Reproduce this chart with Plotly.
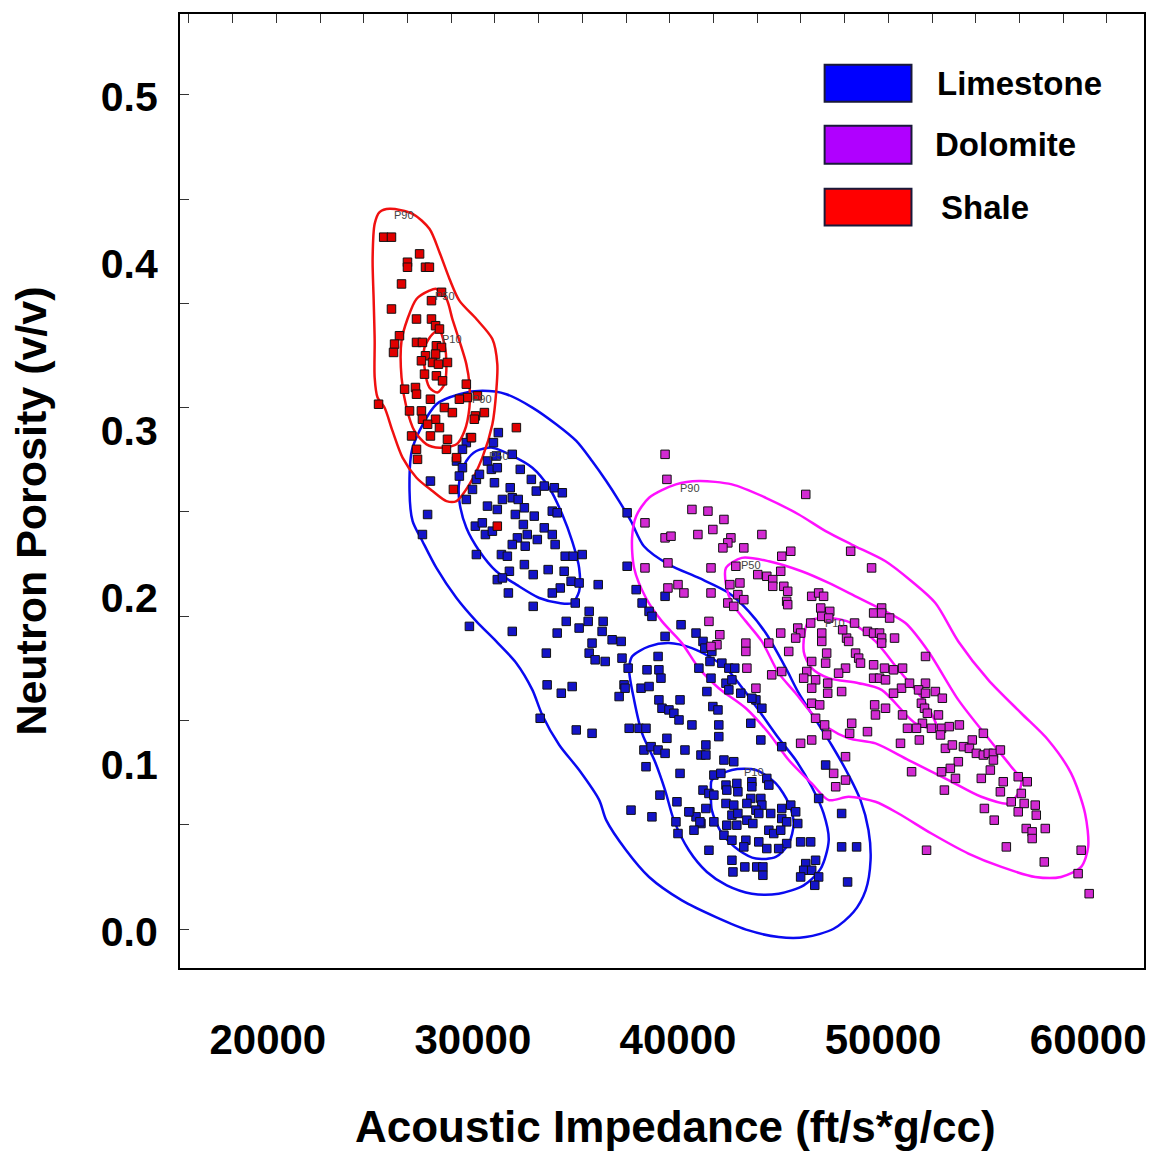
import plotly.graph_objects as go

# ---------------- data ----------------
# Limestone points: acoustic impedance (ft/s*g/cc), neutron porosity (v/v)
lime_x = [31240, 31000, 29880, 29680, 29490, 29200, 29490, 29340, 30710, 31140, 31920, 30900, 31190, 32310, 32850,
          30170, 30320, 27930, 31050, 33090, 33480, 33970, 34360, 29980, 31820, 31920, 32210, 32510, 31440, 30710,
          31190, 29680, 27790, 32070, 32990, 33870, 34110, 32460, 32650, 33480, 33870, 30120, 30460, 30610, 30950,
          32170, 33140, 34010, 31920, 32550, 27540, 30170, 31390, 31680, 34500, 34890, 35330, 32510, 33670, 32940,
          31780, 34450, 31190, 31440, 34790, 35180, 36110, 34260, 33870, 31730, 32940, 34990, 35670, 34550, 35620,
          36350, 29830, 31920, 34110, 35180, 36300, 36790, 37230, 35810, 33580, 35670, 35960, 36450, 37270, 37570,
          33620, 34310, 34840, 37130, 37370, 37520, 37520, 37960, 33280,
          38250, 39370, 38590, 38730, 40150, 39370, 40880, 41220, 41310, 41650, 41560, 42140, 42480, 42770, 39030,
          38490, 39070, 39170, 41020, 41610, 42340, 42630, 42480, 43060, 37420, 38200, 38590, 41410, 39070, 39220,
          39560, 39800, 40100, 40050, 41700, 41950, 43800, 44090, 37620, 38100, 38440, 40680, 41990, 35040, 35810,
          39460, 41360, 41990, 38340, 38690, 39030, 39370, 40340, 41120, 41360, 38440, 40100, 42240, 42720, 41750,
          42090, 39120, 39950, 37710, 38730, 39900, 40000, 40580, 40880, 41120, 41510,
          42340, 42870, 43600, 44330, 42380, 42920, 43600, 44430, 41220, 41510, 41750, 42340, 42720, 43550, 44040,
          44090, 43800, 43360, 41360, 40530, 42630, 42920, 43940, 44520, 45060, 45500, 45740, 41070, 41750, 42380,
          42870, 43360, 43650, 45060, 45300, 45840, 40780, 42240, 43310, 44430, 44670, 45010, 43940, 42630, 45300,
          44330, 44910, 45980, 46470, 43210, 47980, 47980, 48710, 46860, 47200, 42630, 42680, 43260, 43840, 44140,
          44140, 46230, 46710, 46130, 46520, 45980, 46860, 46670, 48270, 43600, 43550, 44040, 45060]
lime_y = [0.299, 0.293, 0.296, 0.293, 0.289, 0.282, 0.278, 0.273, 0.282, 0.285, 0.286, 0.277, 0.278, 0.277, 0.271,
          0.271, 0.274, 0.270, 0.269, 0.264, 0.267, 0.266, 0.263, 0.265, 0.266, 0.260, 0.259, 0.254, 0.259, 0.255,
          0.253, 0.259, 0.250, 0.250, 0.249, 0.252, 0.251, 0.244, 0.238, 0.242, 0.238, 0.243, 0.245, 0.238, 0.240,
          0.236, 0.235, 0.232, 0.232, 0.231, 0.238, 0.226, 0.226, 0.225, 0.225, 0.225, 0.226, 0.220, 0.217, 0.214,
          0.216, 0.216, 0.211, 0.212, 0.210, 0.209, 0.208, 0.206, 0.203, 0.203, 0.195, 0.197, 0.192, 0.186, 0.186,
          0.186, 0.183, 0.180, 0.179, 0.182, 0.180, 0.175, 0.174, 0.173, 0.167, 0.167, 0.163, 0.162, 0.164, 0.158,
          0.148, 0.143, 0.147, 0.141, 0.148, 0.251, 0.219, 0.205, 0.128,
          0.197, 0.201, 0.192, 0.189, 0.184, 0.177, 0.179, 0.174, 0.170, 0.168, 0.162, 0.161, 0.158, 0.158, 0.165,
          0.157, 0.157, 0.152, 0.158, 0.152, 0.149, 0.151, 0.145, 0.143, 0.146, 0.146, 0.147, 0.144, 0.139, 0.134,
          0.133, 0.131, 0.139, 0.127, 0.135, 0.133, 0.139, 0.134, 0.122, 0.122, 0.122, 0.124, 0.124, 0.121, 0.119,
          0.116, 0.112, 0.117, 0.109, 0.111, 0.109, 0.107, 0.109, 0.106, 0.106, 0.099, 0.095, 0.103, 0.102, 0.094,
          0.095, 0.082, 0.078, 0.073, 0.069, 0.066, 0.059, 0.072, 0.069, 0.065, 0.049,
          0.088, 0.089, 0.090, 0.092, 0.085, 0.084, 0.087, 0.088, 0.085, 0.083, 0.082, 0.077, 0.076, 0.080, 0.080,
          0.076, 0.073, 0.077, 0.074, 0.072, 0.070, 0.071, 0.071, 0.071, 0.074, 0.076, 0.072, 0.066, 0.066, 0.064,
          0.064, 0.067, 0.065, 0.068, 0.066, 0.065, 0.061, 0.058, 0.055, 0.061, 0.059, 0.061, 0.054, 0.055, 0.053,
          0.050, 0.050, 0.054, 0.054, 0.051, 0.071, 0.051, 0.051, 0.080, 0.100, 0.043, 0.036, 0.039, 0.039, 0.039,
          0.034, 0.041, 0.043, 0.037, 0.037, 0.033, 0.033, 0.028, 0.030, 0.140, 0.125, 0.115, 0.111]

# Dolomite points
dolo_x = [39370, 39460, 46230, 40680, 41460, 42240, 38390, 41700, 39370, 39660, 40970, 44090, 42580, 42430, 42190,
          43210, 48420, 45500, 45060, 38390, 39510, 41610, 42820, 43890, 44330, 44620, 45010, 44620, 49440, 39510,
          40000, 40290, 41610, 42530, 43020, 42920, 43210, 42430, 42720, 45160, 45350, 45300, 45350, 46520, 46860,
          47100, 41510, 42040, 45010, 45400, 43310, 43310, 45840, 45980, 46960, 47400, 47010, 47350, 48610, 49540,
          49930, 49930, 46470, 47010, 47010, 47250, 47200, 48220, 48660, 48810, 49240, 49540, 49830, 49930, 50560,
          49930, 48170, 41900, 41610, 44430, 45740, 43360, 43800, 44570, 45060, 48030, 48320, 48900, 46520, 46280,
          46130, 46710, 46520, 47300, 47300, 47830, 47980, 46520, 46910, 46710, 47150, 47250, 47590, 48170, 47690,
          48170, 45980, 46520, 49540, 50070, 50510, 50950, 49540, 49830, 50900, 51290, 52070, 51730, 52070, 50510,
          49590, 50120, 49630, 50950, 51870, 52020, 52160, 51920, 52360, 51630, 51190, 48470, 48370, 49240, 50850,
          51770, 51390, 50320, 52070, 50120, 52550, 52890, 52700, 52850, 53230, 53720, 52800, 53040, 53380, 53920,
          54350, 54890, 54210, 54550, 54890, 55130, 55380, 55720, 55380, 55230, 53670, 53280, 52850, 53530, 54790,
          52990, 55860, 55720, 56590, 57030, 56740, 56250, 56590, 56880, 57420, 57470, 54940, 55420, 56980, 57270,
          57910, 57270, 56010, 52120, 57860, 59660, 59510, 60050]
dolo_y = [0.286, 0.271, 0.262, 0.253, 0.252, 0.247, 0.245, 0.241, 0.236, 0.237, 0.238, 0.238, 0.236, 0.233, 0.230,
          0.230, 0.228, 0.228, 0.225, 0.218, 0.221, 0.218, 0.219, 0.214, 0.213, 0.211, 0.216, 0.207, 0.218, 0.206,
          0.208, 0.203, 0.203, 0.208, 0.209, 0.202, 0.199, 0.197, 0.195, 0.207, 0.204, 0.198, 0.196, 0.201, 0.203,
          0.201, 0.186, 0.178, 0.179, 0.168, 0.173, 0.168, 0.182, 0.179, 0.194, 0.192, 0.189, 0.188, 0.185, 0.191,
          0.194, 0.191, 0.185, 0.179, 0.174, 0.167, 0.161, 0.176, 0.167, 0.164, 0.180, 0.179, 0.179, 0.176, 0.176,
          0.173, 0.158, 0.172, 0.171, 0.173, 0.176, 0.158, 0.146, 0.154, 0.156, 0.181, 0.174, 0.161, 0.162, 0.156,
          0.152, 0.151, 0.146, 0.149, 0.143, 0.155, 0.144, 0.137, 0.136, 0.128, 0.124, 0.118, 0.095, 0.091, 0.087,
          0.105, 0.113, 0.115, 0.160, 0.158, 0.157, 0.158, 0.152, 0.152, 0.146, 0.149, 0.149, 0.145, 0.143, 0.143,
          0.136, 0.134, 0.130, 0.130, 0.137, 0.134, 0.131, 0.125, 0.122, 0.122, 0.122, 0.125, 0.119, 0.120, 0.113,
          0.115, 0.096, 0.188, 0.165, 0.151, 0.144, 0.140, 0.130, 0.122, 0.123, 0.124, 0.118, 0.110, 0.112, 0.111,
          0.115, 0.119, 0.110, 0.107, 0.106, 0.107, 0.107, 0.109, 0.103, 0.097, 0.102, 0.098, 0.096, 0.092, 0.092,
          0.085, 0.090, 0.084, 0.093, 0.090, 0.083, 0.078, 0.072, 0.077, 0.076, 0.070, 0.074, 0.067, 0.062, 0.060,
          0.062, 0.056, 0.051, 0.049, 0.042, 0.049, 0.035, 0.023]

# Shale points
shale_x = [25650, 26030, 27400, 26810, 26810, 27690, 27880, 26520, 27980, 28470, 26030, 27250, 27980, 28180, 28370,
           26420, 26180, 26130, 27250, 27540, 28220, 28470, 28180, 27690, 27490, 28030, 28320, 28760, 27640, 28220,
           28520, 26670, 27200, 27250, 27930, 29680, 29730, 29340, 30220, 25400, 26910, 27490, 28610, 29000, 30120,
           30560, 27540, 28180, 27790, 28370, 30070, 27010, 27930, 28760, 29930, 27250, 28710, 27300, 29200, 29050,
           32120, 31190]
shale_y = [0.416, 0.416, 0.406, 0.401, 0.398, 0.398, 0.398, 0.388, 0.378, 0.383, 0.373, 0.367, 0.367, 0.363, 0.361,
           0.357, 0.352, 0.347, 0.353, 0.353, 0.351, 0.350, 0.346, 0.345, 0.342, 0.341, 0.340, 0.341, 0.334, 0.333,
           0.330, 0.325, 0.326, 0.322, 0.319, 0.328, 0.320, 0.319, 0.321, 0.316, 0.312, 0.312, 0.314, 0.311, 0.309,
           0.311, 0.307, 0.307, 0.304, 0.302, 0.307, 0.297, 0.297, 0.295, 0.296, 0.289, 0.289, 0.283, 0.284, 0.265,
           0.302, 0.243]

# Probability contours (P90 / P50 / P10)
lime_p90_x = [28220, 29340, 30460, 31630, 32900, 34060, 35040, 35810, 36500, 37130, 37710, 38340, 39560, 41020,
              42480, 43450, 44280, 45260, 45890, 46710, 47490, 48320, 48900, 49290, 49390, 49150, 48560, 47590,
              46230, 44910, 43450, 41850, 40190, 38590, 37470, 36500, 36160, 35180, 34210, 33380, 32900, 32120,
              31140, 30170, 29200, 28220, 27540, 27060, 26910, 27060]
lime_p90_y = [0.316, 0.322, 0.324, 0.322, 0.314, 0.304, 0.294, 0.282, 0.270, 0.258, 0.246, 0.231, 0.220, 0.212,
              0.203, 0.192, 0.179, 0.158, 0.143, 0.127, 0.112, 0.094, 0.079, 0.061, 0.043, 0.025, 0.012, 0.002,
              -0.003, -0.003, 0.001, 0.009, 0.019, 0.033, 0.049, 0.067, 0.079, 0.097, 0.112, 0.130, 0.145, 0.161,
              0.174, 0.186, 0.200, 0.218, 0.234, 0.246, 0.264, 0.290]
lime_p50a_x = [30170, 30950, 31780, 32900, 33720, 34360, 34840, 35180, 35180, 34840, 34210, 33240, 32120, 31140,
               30320, 29680, 29340, 29340, 29680]
lime_p50a_y = [0.288, 0.290, 0.286, 0.278, 0.266, 0.250, 0.234, 0.218, 0.204, 0.197, 0.197, 0.200, 0.208, 0.216,
               0.228, 0.242, 0.258, 0.270, 0.282]
lime_p50b_x = [42340, 43210, 44040, 44910, 45740, 46520, 47100, 47350, 46960, 46130, 44910, 43600, 42380, 41410,
               40530, 39800, 39370, 38880, 38250, 37860, 37620, 37760, 38590, 39560, 40680, 41510]
lime_p50b_y = [0.158, 0.145, 0.131, 0.116, 0.103, 0.087, 0.071, 0.055, 0.038, 0.028, 0.023, 0.023, 0.028, 0.036,
               0.049, 0.067, 0.085, 0.102, 0.119, 0.139, 0.157, 0.165, 0.171, 0.173, 0.170, 0.165]
lime_p10_x = [41650, 42630, 43800, 44770, 45400, 45640, 45400, 44770, 43800, 42970, 42140, 41650, 41610]
lime_p10_y = [0.091, 0.097, 0.097, 0.089, 0.077, 0.065, 0.053, 0.045, 0.044, 0.049, 0.059, 0.073, 0.085]

dolo_p90_x = [39900, 41020, 42630, 44280, 45890, 47200, 48470, 50120, 51390, 52550, 53670, 55130, 56740, 58050,
              59170, 59850, 60000, 59660, 58680, 57420, 55770, 54160, 52360, 50750, 49630, 48320, 47350, 46520,
              45400, 44430, 43310, 41990, 41020, 40190, 39220, 38440, 37860, 37760, 37960, 38590]
dolo_p90_y = [0.268, 0.270, 0.268, 0.260, 0.250, 0.240, 0.232, 0.222, 0.210, 0.197, 0.174, 0.151, 0.131, 0.115,
              0.095, 0.071, 0.051, 0.039, 0.033, 0.033, 0.039, 0.047, 0.059, 0.071, 0.078, 0.081, 0.079, 0.089,
              0.103, 0.119, 0.134, 0.146, 0.158, 0.173, 0.186, 0.200, 0.218, 0.236, 0.249, 0.260]
dolo_p50_x = [42340, 43110, 44430, 46030, 47350, 48810, 50120, 51090, 52210, 53670, 55130, 56250, 56740, 56590,
              56110, 54790, 53190, 51240, 49630, 48320, 47350, 46520, 45740, 44910, 44090, 43310, 42630, 42340]
dolo_p50_y = [0.218, 0.224, 0.222, 0.216, 0.209, 0.200, 0.192, 0.185, 0.168, 0.139, 0.116, 0.099, 0.091, 0.083,
              0.077, 0.081, 0.091, 0.103, 0.113, 0.116, 0.122, 0.131, 0.143, 0.155, 0.174, 0.186, 0.197, 0.208]
dolo_p10_x = [46370, 47350, 48470, 49630, 50750, 52070, 52600, 51580, 49930, 48810, 47350, 46520, 46130]
dolo_p10_y = [0.186, 0.188, 0.185, 0.174, 0.157, 0.137, 0.122, 0.125, 0.145, 0.149, 0.152, 0.158, 0.168]

shale_p90_x = [25450, 25940, 27060, 27880, 28370, 28860, 29340, 30170, 30950, 31190, 31140, 30950, 30460, 29830,
               29200, 28710, 28030, 27250, 26570, 26080, 25690, 25350, 25210, 25210, 25160, 25110, 25210]
shale_p90_y = [0.431, 0.433, 0.430, 0.421, 0.407, 0.391, 0.378, 0.367, 0.355, 0.340, 0.324, 0.304, 0.284, 0.268,
               0.258, 0.258, 0.264, 0.272, 0.284, 0.300, 0.314, 0.320, 0.332, 0.354, 0.379, 0.403, 0.424]
shale_p50_x = [27880, 28220, 28710, 29000, 29340, 29680, 29830, 29830, 29590, 29200, 28370, 27740, 27150, 26760,
               26520, 26520, 26810, 27250]
shale_p50_y = [0.384, 0.385, 0.379, 0.367, 0.354, 0.340, 0.328, 0.314, 0.300, 0.292, 0.290, 0.292, 0.300, 0.314,
               0.332, 0.354, 0.367, 0.379]
shale_p10_x = [28030, 28370, 28610, 28710, 28610, 28270, 27880, 27640, 27640]
shale_p10_y = [0.358, 0.360, 0.352, 0.340, 0.328, 0.323, 0.326, 0.338, 0.350]

# contour label text and anchor positions
contour_labels = ["P90", "P50", "P10", "P90", "P50", "P10", "P90", "P50", "P10"]
contour_label_x = [26620, 28660, 29000, 30460, 31290, 43700, 40580, 43550, 47640]
contour_label_y = [0.429, 0.381, 0.355, 0.319, 0.285, 0.096, 0.266, 0.220, 0.185]

legend_names = ["Limestone", "Dolomite", "Shale"]
legend_colors = ["#0000ff", "#b000ff", "#ff0000"]

x_tick_vals = [20000, 30000, 40000, 50000, 60000]
x_tick_text = ["20000", "30000", "40000", "50000", "60000"]
y_tick_vals = [0.0, 0.1, 0.2, 0.3, 0.4, 0.5]
y_tick_text = ["0.0", "0.1", "0.2", "0.3", "0.4", "0.5"]

# ---------------- figure ----------------
LINE_BLUE = "#0a0af0"
LINE_MAG = "#ff10ff"
LINE_RED = "#f01010"
FONT = "Arial, Liberation Sans, sans-serif"

fig = go.Figure()


def closed(v):
    return list(v) + [v[0]]


def add_contour(xs, ys, color):
    fig.add_trace(go.Scatter(x=closed(xs), y=closed(ys), mode="lines",
                             line=dict(color=color, width=2.5, shape="spline", smoothing=0.8),
                             hoverinfo="skip", showlegend=False))


add_contour(lime_p90_x, lime_p90_y, LINE_BLUE)
add_contour(lime_p50a_x, lime_p50a_y, LINE_BLUE)
add_contour(lime_p50b_x, lime_p50b_y, LINE_BLUE)
add_contour(lime_p10_x, lime_p10_y, LINE_BLUE)
add_contour(dolo_p90_x, dolo_p90_y, LINE_MAG)
add_contour(dolo_p50_x, dolo_p50_y, LINE_MAG)
add_contour(dolo_p10_x, dolo_p10_y, LINE_MAG)
add_contour(shale_p90_x, shale_p90_y, LINE_RED)
add_contour(shale_p50_x, shale_p50_y, LINE_RED)
add_contour(shale_p10_x, shale_p10_y, LINE_RED)


def add_points(xs, ys, fill, name):
    fig.add_trace(go.Scatter(x=xs, y=ys, mode="markers", name=name, showlegend=False,
                             marker=dict(symbol="square", size=8.5, color=fill,
                                         line=dict(color="#111111", width=1))))


add_points(lime_x, lime_y, "#1414c8", "Limestone")
add_points(dolo_x, dolo_y, "#d22ad2", "Dolomite")
add_points(shale_x, shale_y, "#e00000", "Shale")

# dummy trace so the decorative frame-tick axes are drawn
fig.add_trace(go.Scatter(x=[None], y=[None], xaxis="x2", yaxis="y2", showlegend=False, hoverinfo="skip"))

annotations = []
for t, lx, ly in zip(contour_labels, contour_label_x, contour_label_y):
    annotations.append(dict(x=lx, y=ly, xref="x", yref="y", text=t, showarrow=False,
                            font=dict(family=FONT, size=11, color="#444444")))

# legend boxes and text
legend_top = [0.9467, 0.8828, 0.8169]
legend_bot = [0.9079, 0.8431, 0.7782]
legend_text_x = [0.7836, 0.7816, 0.7878]
shapes = []
for name, col, y0, y1, tx in zip(legend_names, legend_colors, legend_bot, legend_top, legend_text_x):
    shapes.append(dict(type="rect", xref="paper", yref="paper", x0=0.6687, x1=0.7588, y0=y0, y1=y1,
                       fillcolor=col, line=dict(color="#1a1a3a", width=2)))
    annotations.append(dict(x=tx, y=(y0 + y1) / 2, xref="paper", yref="paper", text="<b>%s</b>" % name,
                            showarrow=False, xanchor="left", yanchor="middle",
                            font=dict(family=FONT, size=33, color="black")))

# axis titles
annotations.append(dict(x=0.5135, y=-0.166, xref="paper", yref="paper",
                        text="<b>Acoustic Impedance (ft/s*g/cc)</b>", showarrow=False,
                        xanchor="center", yanchor="middle",
                        font=dict(family=FONT, size=44, color="black")))
annotations.append(dict(x=-0.155, y=0.479, xref="paper", yref="paper",
                        text="<b>Neutron Porosity (v/v)</b>", showarrow=False, textangle=-90,
                        xanchor="center", yanchor="middle",
                        font=dict(family=FONT, size=43, color="black")))

fig.update_layout(
    width=1158, height=1154,
    margin=dict(l=180, r=12, t=12, b=186),
    paper_bgcolor="white", plot_bgcolor="white",
    showlegend=False,
    xaxis=dict(range=[15718, 62723], tickvals=x_tick_vals, ticktext=x_tick_text, ticks="", showgrid=False,
               zeroline=False, showline=True, mirror=True, linecolor="black", linewidth=2,
               ticklabelstandoff=34,
               tickfont=dict(family=FONT, size=42, color="black", weight="bold")),
    yaxis=dict(range=[-0.0215, 0.5496], tickvals=y_tick_vals, ticktext=y_tick_text, ticks="", showgrid=False,
               zeroline=False, showline=True, mirror=True, linecolor="black", linewidth=2,
               ticklabelstandoff=12,
               tickfont=dict(family=FONT, size=41, color="black", weight="bold")),
    xaxis2=dict(overlaying="x", side="top", anchor="y2", range=[0, 966], tick0=9, dtick=43.8,
                ticks="inside", ticklen=9, tickcolor="#333333", tickwidth=1, showticklabels=False,
                showgrid=False, zeroline=False, showline=False),
    yaxis2=dict(overlaying="y", side="left", anchor="x2", range=[956, 0], tick0=81, dtick=104.5,
                ticks="inside", ticklen=9, tickcolor="#333333", tickwidth=1, showticklabels=False,
                showgrid=False, zeroline=False, showline=False),
    shapes=shapes,
    annotations=annotations,
)

fig.write_html("out.html")
